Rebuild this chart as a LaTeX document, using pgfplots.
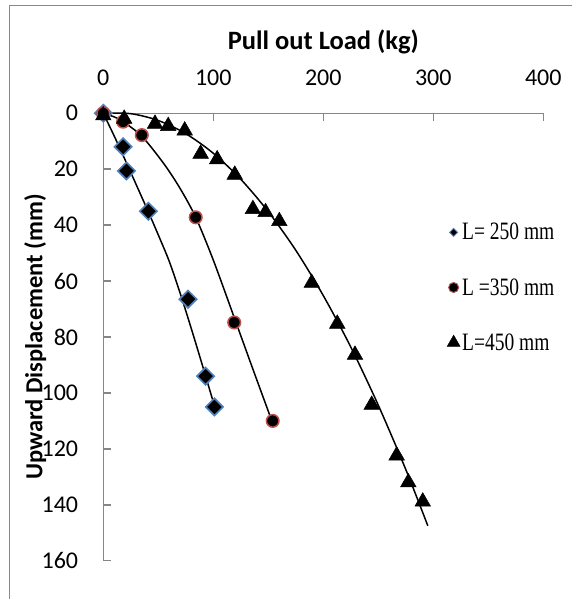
\documentclass[border=0pt]{standalone}
\usepackage{pgfplots}
\pgfplotsset{compat=1.18}
\usepackage{fontspec}
\usepackage{graphicx}
\setmainfont{Carlito}
\newfontfamily\legendfont{Liberation Serif}
\definecolor{framegray}{HTML}{898989}
\definecolor{axisgray}{HTML}{868686}
\definecolor{edgeblue}{HTML}{4F81BD}
\definecolor{edgered}{HTML}{C0504D}

% measured pull-out tests
\pgfplotstableread{
x y
0 0
18 12
21 20.6
41 35
77 66.5
93 94
101 105
}\shortanchor
\pgfplotstableread{
x y
0 0
18 3
35 7.8
84 37.2
119 74.8
154 110
}\midanchor
\pgfplotstableread{
x y
0 0
19 1.2
47 3
59 3.8
74 5.4
88.5 13.7
103.5 15.7
119.5 21.2
136 33.5
147.5 34.6
160 37.8
189.5 59.9
212.7 74.5
228.8 85.6
244 103.5
266.7 121.6
277.3 131.2
290.4 138.1
}\longanchor

% fitted trend curves
\pgfplotstableread{
x y
0 0
10 8.2
20 16.8
30 25.6
41 35.3
50 43.5
60 53
70 64.5
80 77
90 90
101.3 105
}\shorttrend
\pgfplotstableread{
x y
0 0
10 1.3
18 3.0
35 8.2
55 18
70 27
84 37.2
100 52.5
118.8 72.8
136 91.5
153.5 110.3
}\midtrend
\pgfplotstableread{
x y
0 0
25 0.14
50 2.58
75 7.29
100 14.3
125 23.6
150 35.2
175 49.0
200 65.2
225 83.6
250 104.4
275 127.4
295 147.5
}\longtrend

\pgfplotsset{
  dotlegend/.style={legend image code/.code={\draw[##1] plot coordinates {(0bp,0bp)};}},
}

\begin{document}
\begin{tikzpicture}[x=1bp,y=1bp]
\useasboundingbox (0,0) rectangle (572,599);
\draw[framegray, line width=1bp] (9,-20) rectangle (600,593);
\begin{axis}[
  at={(103.3bp,485.7bp)}, anchor=north west,
  scale only axis, width=440bp, height=447.4bp,
  xmin=0, xmax=400, ymin=0, ymax=160, y dir=reverse,
  axis x line*=top, axis y line*=left,
  axis line style={axisgray, line width=1.5bp},
  tick style={axisgray, line width=1.5bp},
  major tick length=8bp, tick align=inside,
  xtick={0,100,...,400}, ytick={0,20,...,160},
  clip=false,
  /pgf/number format/assume math mode=true,
  ticklabel style={font=\fontsize{24bp}{28bp}\selectfont, inner sep=0pt},
  xticklabel style={anchor=center, yshift=35.3bp},
  yticklabel style={anchor=east, xshift=-25bp},
  every axis x label/.style={at={(rel axis cs:0.5,1)}, anchor=center, yshift=71.5bp,
    font=\bfseries\fontsize{26.5bp}{30bp}\selectfont},
  every axis y label/.style={at={(rel axis cs:0,0.5)}, anchor=center, xshift=-68bp, rotate=90,
    font=\bfseries\fontsize{24.5bp}{28bp}\selectfont},
  xlabel={Pull out Load (kg)},
  ylabel={Upward Displacement (mm)},
  legend style={at={(axis description cs:0.781,0.759)}, anchor=north west,
    draw=none, fill=none, inner sep=0pt, row sep=33bp,
    font=\legendfont\fontsize{25bp}{28bp}\selectfont,
    nodes={inner sep=2bp}},
  legend cell align=left,
]
% trend curves
\addplot[black, line width=1.5bp, smooth, forget plot] table {\shorttrend};
\addplot[black, line width=1.5bp, smooth, forget plot] table {\midtrend};
\addplot[black, line width=1.5bp, smooth, forget plot] table {\longtrend};
% measured points
\addplot[only marks, mark=square*, mark size=6.1bp,
  mark options={rotate=45, fill=black, draw=edgeblue, line width=1.6bp}, forget plot] table {\shortanchor};
\addplot[only marks, mark=*, mark size=6.3bp,
  mark options={fill=black, draw=edgered, line width=1.5bp}, forget plot] table {\midanchor};
\addplot[only marks, mark=triangle*, mark size=9bp,
  mark options={fill=black, draw=black, line width=0.5bp, yshift=-2.2bp}, forget plot] table {\longanchor};
% legend
\addlegendimage{dotlegend, mark=square*, mark size=2.8bp,
  mark options={rotate=45, fill=black, draw=edgeblue, line width=0.8bp}}
\addlegendentry{\scalebox{0.78}[1]{L= 250 mm}}
\addlegendimage{dotlegend, mark=*, mark size=5bp,
  mark options={fill=black, draw=edgered, line width=1bp}}
\addlegendentry{\scalebox{0.78}[1]{L =350 mm}}
\addlegendimage{dotlegend, mark=triangle*, mark size=7.5bp,
  mark options={fill=black, draw=black, line width=0.4bp}}
\addlegendentry{\scalebox{0.78}[1]{L=450 mm}}
\end{axis}
\end{tikzpicture}
\end{document}
